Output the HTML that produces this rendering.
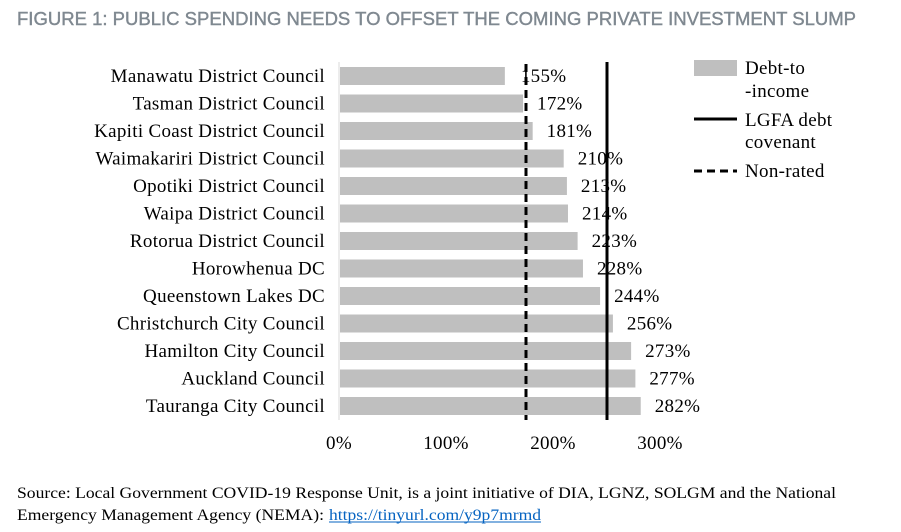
<!DOCTYPE html>
<html><head><style>
body{margin:0;width:901px;height:532px;background:#fff;position:relative;overflow:hidden;font-family:"Liberation Serif",serif;}
</style></head><body>
<svg width="901" height="532" style="position:absolute;left:0;top:0" font-family="Liberation Serif, serif">
<text x="17" y="25" font-family="Liberation Sans, sans-serif" font-size="18" fill="#7f8890" stroke="#7f8890" stroke-width="0.4" textLength="839" lengthAdjust="spacingAndGlyphs">FIGURE 1: PUBLIC SPENDING NEEDS TO OFFSET THE COMING PRIVATE INVESTMENT SLUMP</text>
<line x1="339" y1="62" x2="339" y2="420" stroke="#d9d9d9" stroke-width="1"/>
<g id="bars"></g>
<line x1="526" y1="64" x2="526" y2="420" stroke="#000" stroke-width="3" stroke-dasharray="8,5"/>
<line x1="607" y1="62" x2="607" y2="420" stroke="#000" stroke-width="3"/>
<g font-size="19" fill="#000" text-anchor="middle" letter-spacing="0.3">
<text x="339" y="449">0%</text><text x="446" y="449">100%</text><text x="553" y="449">200%</text><text x="660" y="449">300%</text>
</g>
<g font-size="19" letter-spacing="0.3">
<rect x="694" y="60" width="43" height="16" fill="#bfbfbf"/>
<text x="745" y="74">Debt-to</text>
<text x="745" y="97">-income</text>
<line x1="694" y1="119" x2="737" y2="119" stroke="#000" stroke-width="3"/>
<text x="745" y="126">LGFA debt</text>
<text x="745" y="148">covenant</text>
<line x1="694" y1="171" x2="737" y2="171" stroke="#000" stroke-width="3" stroke-dasharray="8,5"/>
<text x="745" y="177">Non-rated</text>
</g>
<text x="17" y="498" font-size="16" textLength="819" lengthAdjust="spacingAndGlyphs">Source: Local Government COVID-19 Response Unit, is a joint initiative of DIA, LGNZ, SOLGM and the National</text>
<text x="17" y="520" font-size="16" textLength="307" lengthAdjust="spacingAndGlyphs">Emergency Management Agency (NEMA):</text>
<text x="329" y="520" font-size="16" fill="#0563c1" textLength="212" lengthAdjust="spacingAndGlyphs">https://tinyurl.com/y9p7mrmd</text>
<line x1="329" y1="522" x2="541" y2="522" stroke="#0563c1" stroke-width="1"/>
</svg>
<script>
var d=[["Manawatu District Council",155],["Tasman District Council",172],["Kapiti Coast District Council",181],["Waimakariri District Council",210],["Opotiki District Council",213],["Waipa District Council",214],["Rotorua District Council",223],["Horowhenua DC",228],["Queenstown Lakes DC",244],["Christchurch City Council",256],["Hamilton City Council",273],["Auckland Council",277],["Tauranga City Council",282]];
var g=document.getElementById("bars"),s="";
d.forEach(function(r,i){var c=76+i*27.5,w=r[1]*1.07;
s+='<rect x="340" y="'+(c-9)+'" width="'+(w-1)+'" height="18" fill="#bfbfbf"/>';
s+='<text x="325" y="'+(c+6)+'" font-size="19" letter-spacing="0.3" text-anchor="end">'+r[0]+'</text>';
s+='<text x="'+(339+w+(i==0?16:14))+'" y="'+(c+6)+'" font-size="19" letter-spacing="0.3">'+r[1]+'%</text>';});
g.innerHTML=s;
</script>
</body></html>
